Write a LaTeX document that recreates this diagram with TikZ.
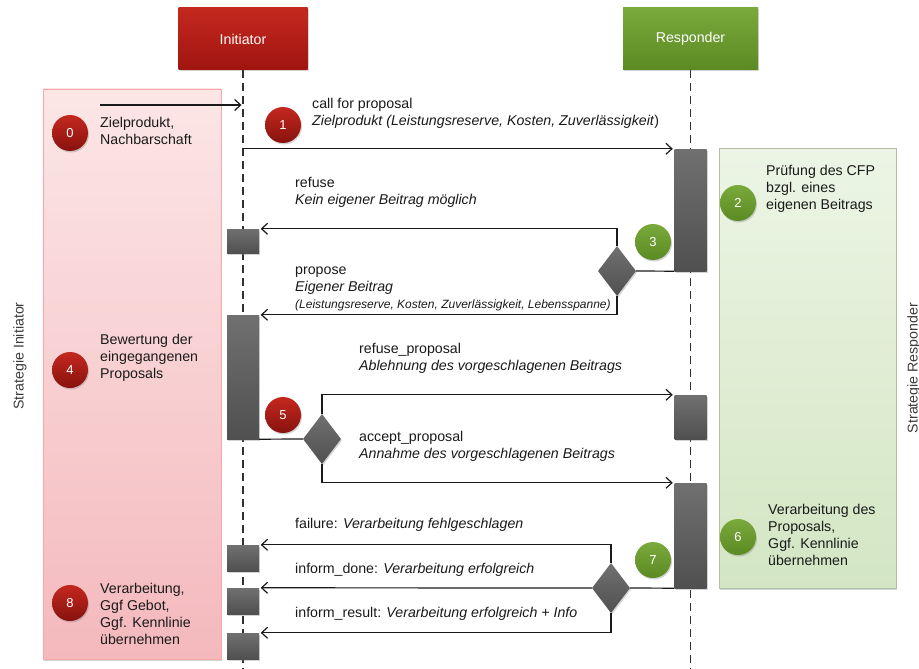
\documentclass[tikz,border=0pt]{standalone}
\usepackage{fontspec}
\setmainfont{Liberation Sans}
\usepackage{tikz}
\usetikzlibrary{arrows.meta,shapes.geometric,shadows}
\definecolor{rotoben}{HTML}{C4281F}
\definecolor{rotunten}{HTML}{A01510}
\definecolor{gruenoben}{HTML}{7AAA3C}
\definecolor{gruenunten}{HTML}{5A8A22}
\definecolor{rosa}{HTML}{FCE6E6}
\definecolor{rosadunkel}{HTML}{F4B9BD}
\definecolor{mint}{HTML}{ECF5E5}
\definecolor{mintdunkel}{HTML}{D3E6C3}
\definecolor{balkengrau}{HTML}{707070}
\definecolor{balkendunkel}{HTML}{505050}
\definecolor{schrift}{HTML}{1A1A1A}
\newcommand{\msgfont}{\fontsize{14.2}{16.8}\selectfont}
\newcommand{\kleinfont}{\fontsize{12}{15}\selectfont}
\tikzset{
	schatten/.style = {drop shadow={opacity=0.35, shadow xshift=1pt, shadow yshift=-1.5pt}},
	kopf/.style = {rectangle, inner sep=0pt, text=white, font=\msgfont,
		minimum height=62, schatten},% kopf der lebenslinie
	kopf_r/.style = {kopf, top color=rotoben, bottom color=rotunten, minimum width=129},% initiator
	kopf_g/.style = {kopf, top color=gruenoben, bottom color=gruenunten, minimum width=135},% responder
	feld_r/.style = {rectangle, draw=rosadunkel!70!red!70, top color=rosa,
		bottom color=rosadunkel, minimum width=178, minimum height=570, schatten},% strategie initiator
	feld_g/.style = {rectangle, draw=mintdunkel!80!black!90, top color=mint,
		bottom color=mintdunkel, minimum width=177, minimum height=440, schatten},% strategie responder
	balken/.style = {rectangle, inner sep=0pt, minimum width=32,
		top color=balkengrau, bottom color=balkendunkel, schatten},% aktivierung
	raute/.style = {diamond, inner sep=0pt, minimum width=38, minimum height=50,
		top color=balkengrau, bottom color=balkendunkel, schatten},% entscheidung
	num/.style = {circle, inner sep=0pt, minimum size=36, text=white,
		font=\fontsize{13}{15}\selectfont, schatten},
	num_r/.style = {num, top color=rotoben, bottom color=rotunten!85!black},% schritt initiator
	num_g/.style = {num, top color=gruenoben, bottom color=gruenunten},% schritt responder
	txt/.style = {anchor=west, align=left, inner sep=0pt, text=schrift, font=\msgfont},
	rot_txt/.style = {rotate=90, inner sep=0pt, text=schrift!85, font=\msgfont},
	lebenslinie/.style = {draw=schrift!90, line width=1.3pt, dash pattern=on 8pt off 5pt},
	linie/.style = {draw=schrift, line width=1.2pt},
	msg/.style = {linie, ->, shorten >=1.5pt}
}

\begin{document}
\begin{tikzpicture}[x=1pt,y=-1pt,>={Straight Barb[length=6pt,width=11pt]}]
\useasboundingbox (0,0) rectangle (919,669);

% strategien
\node[feld_r] (strat_i) at (132,374) {};
\node[feld_g] (strat_r) at (807.5,368) {};
\node[rot_txt] (lab_i) at (20,356) {Strategie Initiator};
\node[rot_txt] (lab_r) at (914,368) {Strategie Responder};

% lebenslinien
\node[kopf_r] (ini) at (243,39) {Initiator};
\node[kopf_g] (resp) at (690.5,39) {Responder};
\coordinate (unten) at (0,669);
\draw[lebenslinie] (ini.south) -- (ini.south |- unten);
\draw[lebenslinie] (resp.south) -- (resp.south |- unten);

% aktivierungen
\node[balken, minimum height=122] (b_r1) at (690.5,210) {};
\node[balken, minimum height=24] (b_i1) at (243,241) {};
\node[balken, minimum height=124] (b_i2) at (243,377) {};
\node[balken, minimum height=44] (b_r2) at (690.5,417) {};
\node[balken, minimum height=105] (b_r3) at (690.5,535.5) {};
\node[balken, minimum height=26] (b_i3) at (243,558) {};
\node[balken, minimum height=26] (b_i4) at (243,601) {};
\node[balken, minimum height=26] (b_i5) at (243,646) {};

% entscheidungen
\node[raute] (d3) at (617,271) {};
\node[raute] (d5) at (322,439) {};
\node[raute] (d7) at (611,588) {};

% nachrichten
\coordinate (in0) at (100,105);
\draw[msg] (in0) -- (in0 -| ini.south);
\draw[msg] (b_r1.north west -| ini.south) -- (b_r1.north west);
\draw[linie] (b_r1.south west) -- (d3.east);
\draw[msg] (d3.north) |- (b_i1.north east);
\draw[msg] (d3.south) |- (b_i2.north east);
\draw[linie] (b_i2.south east) -- (d5.west);
\draw[msg] (d5.north) |- (b_r2.north west);
\draw[msg] (d5.south) |- (b_r3.north west);
\draw[linie] (b_r3.south west) -- (d7.east);
\draw[msg] (d7.north) |- (b_i3.north east);
\draw[msg] (d7.west) -- (b_i4.north east);
\draw[msg] (d7.south) |- (b_i5.north east);

% beschriftungen
\node[txt] (l1) at (312,113) {call for proposal\\\textit{Zielprodukt (Leistungsreserve, Kosten, Zuverlässigkeit})};
\node[txt] (l2) at (295,192) {refuse\\\textit{Kein eigener Beitrag möglich}};
\node[txt] (l3) at (295,289) {propose\\\textit{Eigener Beitrag}\\{\kleinfont\itshape (Leistungsreserve, Kosten, Zuverlässigkeit, Lebensspanne)}};
\node[txt] (l4) at (359,358) {refuse\_proposal\\\textit{Ablehnung des vorgeschlagenen Beitrags}};
\node[txt] (l5) at (359,446) {accept\_proposal\\\textit{Annahme des vorgeschlagenen Beitrags}};
\node[txt] (l6) at (295,525) {failure: \textit{Verarbeitung fehlgeschlagen}};
\node[txt] (l7) at (295,570) {inform\_done: \textit{Verarbeitung erfolgreich}};
\node[txt] (l8) at (295,614) {inform\_result: \textit{Verarbeitung erfolgreich + Info}};

% schritte
\node[num_r] (n0) at (70,133) {0};
\node[num_r] (n1) at (283,125) {1};
\node[num_g] (n2) at (738,203) {2};
\node[num_g] (n3) at (653,242) {3};
\node[num_r] (n4) at (70,370) {4};
\node[num_r] (n5) at (283,415) {5};
\node[num_g] (n6) at (738,537) {6};
\node[num_g] (n7) at (653,560) {7};
\node[num_r] (n8) at (70,603) {8};
\node[txt] (t0) at (100,131) {Zielprodukt,\\Nachbarschaft};
\node[txt] (t2) at (766,189) {Prüfung des CFP\\bzgl. eines\\eigenen Beitrags};
\node[txt] (t4) at (100,358) {Bewertung der\\eingegangenen\\Proposals};
\node[txt] (t6) at (768,535) {Verarbeitung des\\Proposals,\\Ggf. Kennlinie\\übernehmen};
\node[txt] (t8) at (100,614) {Verarbeitung,\\Ggf Gebot,\\Ggf. Kennlinie\\übernehmen};
\end{tikzpicture}
\end{document}
